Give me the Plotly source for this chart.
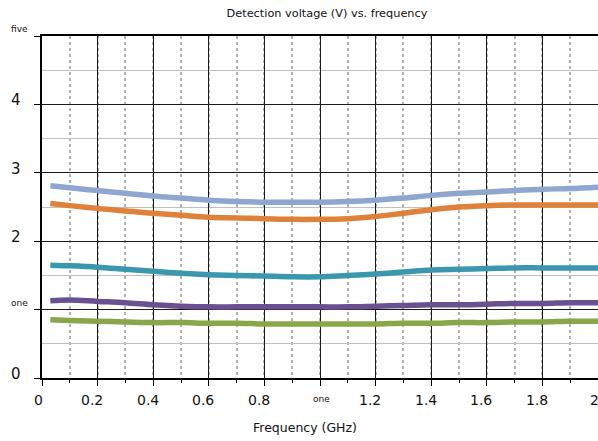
import plotly.graph_objects as go

# ---- data ----
freq = [0.03, 0.1, 0.2, 0.3, 0.4, 0.5, 0.6, 0.7, 0.8, 0.9, 1.0,
        1.1, 1.2, 1.3, 1.4, 1.5, 1.6, 1.7, 1.8, 1.9, 2.0]
series_a = [2.81, 2.78, 2.74, 2.70, 2.66, 2.63, 2.60, 2.58, 2.57, 2.57, 2.57,
            2.58, 2.60, 2.63, 2.67, 2.70, 2.72, 2.74, 2.76, 2.77, 2.79]
series_b = [2.55, 2.52, 2.48, 2.44, 2.41, 2.38, 2.35, 2.34, 2.33, 2.32, 2.32,
            2.33, 2.36, 2.41, 2.46, 2.50, 2.52, 2.53, 2.53, 2.53, 2.53]
series_c = [1.65, 1.64, 1.62, 1.59, 1.56, 1.53, 1.51, 1.50, 1.49, 1.48, 1.48,
            1.50, 1.52, 1.55, 1.58, 1.59, 1.60, 1.61, 1.61, 1.61, 1.61]
series_d = [1.13, 1.14, 1.12, 1.10, 1.07, 1.05, 1.04, 1.04, 1.04, 1.04, 1.04,
            1.04, 1.05, 1.06, 1.07, 1.07, 1.08, 1.09, 1.09, 1.10, 1.10]
series_e = [0.85, 0.84, 0.83, 0.82, 0.81, 0.81, 0.80, 0.80, 0.79, 0.79, 0.79,
            0.79, 0.79, 0.80, 0.80, 0.81, 0.81, 0.82, 0.82, 0.83, 0.83]
series_names = ["Series 1", "Series 2", "Series 3", "Series 4", "Series 5"]
series_colors = ["#8fa6d0", "#df8139", "#3b97ae", "#6b5091", "#88a64a"]

x_tickvals = [0, 0.2, 0.4, 0.6, 0.8, 1.0, 1.2, 1.4, 1.6, 1.8, 2.0]
x_ticktext = ["0", "0.2", "0.4", "0.6", "0.8", "one", "1.2", "1.4", "1.6", "1.8", "2"]
y_tickvals = [0, 1, 2, 3, 4, 5]
y_ticktext = ["0", "one", "2", "3", "4", "five"]
small_words = {"one", "five"}

title_text = "Detection voltage (V) vs. frequency"
x_title = "Frequency (GHz)"

FONT = "DejaVu Sans"
INK = "#111"

fig = go.Figure()
for name, ys, col in zip(series_names,
                         [series_a, series_b, series_c, series_d, series_e],
                         series_colors):
    fig.add_trace(go.Scatter(x=freq, y=ys, mode="lines", name=name,
                             line=dict(color=col, width=5.5, shape="spline"),
                             showlegend=False))

fig.update_layout(
    width=598, height=441,
    template="none",
    paper_bgcolor="white", plot_bgcolor="white",
    margin=dict(l=42, r=0, t=36, b=63, pad=0),
    font=dict(family=FONT, color=INK),
    title=dict(text=title_text, font=dict(size=11.3, family=FONT, color=INK),
               x=(327 - 42) / 556, xref="paper", xanchor="center",
               y=1 - 13.5 / 441, yref="container", yanchor="middle"),
    xaxis=dict(range=[0, 2], tickvals=x_tickvals, showticklabels=False,
               showgrid=True, gridcolor="#1a1a1a", gridwidth=1,
               showline=True, linecolor="#000", linewidth=1.5, mirror=True,
               ticks="outside", ticklen=6, tickcolor="#000",
               zeroline=False, automargin=False,
               minor=dict(dtick=0.1, showgrid=True, gridcolor="#b0b0b0",
                          griddash="dot", gridwidth=1.5,
                          ticks="outside", ticklen=3, tickcolor="#000")),
    yaxis=dict(range=[0, 5], tickvals=y_tickvals, showticklabels=False,
               showgrid=True, gridcolor="#1a1a1a", gridwidth=1,
               showline=True, linecolor="#000", linewidth=1.5,
               ticks="outside", ticklen=6, tickcolor="#000",
               zeroline=False, automargin=False,
               minor=dict(dtick=0.5, showgrid=True, gridcolor="#c0c0c0",
                          gridwidth=1, ticks="")),
)

# y tick labels (left aligned)
for v, t in zip(y_tickvals, y_ticktext):
    small = t in small_words
    fig.add_annotation(x=0, xref="paper", y=v, yref="y", text=t,
                       showarrow=False, xanchor="left", yanchor="middle",
                       xshift=-33, yshift=7 if small else 4,
                       font=dict(size=9 if small else 15, family=FONT, color=INK))

# x tick labels
for v, t in zip(x_tickvals, x_ticktext):
    small = t in small_words
    if small:
        xs, ys_, fs = 1, -21, 9
    elif len(t) == 1:
        xs, ys_, fs = -3.3, -22, 14
    else:
        xs, ys_, fs = -5.6, -22, 14
    fig.add_annotation(x=v, xref="x", y=0, yref="paper", text=t,
                       showarrow=False, xanchor="center", yanchor="middle",
                       xshift=xs, yshift=ys_,
                       font=dict(size=fs, family=FONT, color=INK))

fig.add_annotation(x=(305 - 42) / 556, xref="paper", y=(378 - 427) / 342, yref="paper",
                   text=x_title, showarrow=False, xanchor="center", yanchor="middle",
                   font=dict(size=12.5, family=FONT, color=INK))

fig.write_html("out.html")
